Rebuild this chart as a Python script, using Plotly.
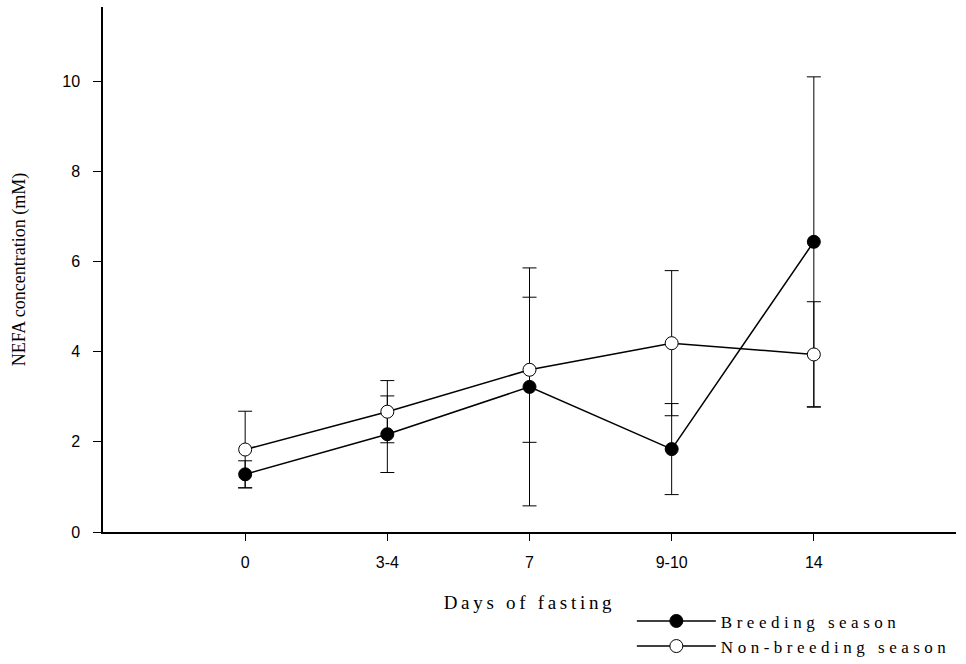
import plotly.graph_objects as go

days = ["0", "3-4", "7", "9-10", "14"]
x_pos = [1, 2, 3, 4, 5]

breeding = [1.28, 2.17, 3.22, 1.84, 6.44]
breeding_se = [0.30, 0.85, 2.64, 1.01, 3.66]

nonbreeding = [1.83, 2.67, 3.60, 4.19, 3.94]
nonbreeding_se = [0.85, 0.69, 1.61, 1.61, 1.17]

SERIF = "Liberation Serif, Times New Roman, serif"
SANS = "Liberation Sans, Arial, sans-serif"


def spaced(t, px=3.0):
    return '<span style="letter-spacing:%.1fpx">%s</span>' % (px, t)


fig = go.Figure()

fig.add_trace(go.Scatter(
    x=x_pos, y=breeding, name=spaced("Breeding season", 4.5), mode="lines+markers",
    line=dict(color="black", width=1.5),
    marker=dict(symbol="circle", size=13, color="black", line=dict(color="black", width=1)),
    error_y=dict(type="data", array=breeding_se, visible=True, color="black", thickness=1, width=7),
))
fig.add_trace(go.Scatter(
    x=x_pos, y=nonbreeding, name=spaced("Non-breeding season", 4.5), mode="lines+markers",
    line=dict(color="black", width=1.5),
    marker=dict(symbol="circle", size=13, color="white", line=dict(color="black", width=1)),
    error_y=dict(type="data", array=nonbreeding_se, visible=True, color="black", thickness=1, width=7),
))

fig.update_layout(
    width=966, height=664,
    margin=dict(l=103, r=10, t=7, b=131.5, autoexpand=False),
    paper_bgcolor="white", plot_bgcolor="white",
    showlegend=True,
    legend=dict(
        x=0.62, y=-0.136, xanchor="left", yanchor="top",
        font=dict(family=SERIF, size=17, color="black"),
        bgcolor="rgba(0,0,0,0)", tracegroupgap=0, itemwidth=79,
    ),
    font=dict(family=SANS, color="black"),
)

fig.update_xaxes(
    range=[0, 6], tickmode="array", tickvals=x_pos, ticktext=days,
    showline=True, linecolor="black", linewidth=1.5, mirror=False,
    ticks="outside", ticklen=7, tickwidth=1, tickcolor="black",
    ticklabelstandoff=8,
    showgrid=False, zeroline=False,
    tickfont=dict(family=SANS, size=16),
    title=dict(text=spaced("Days of fasting", 3.7), standoff=26,
               font=dict(family=SERIF, size=19)),
)
fig.update_yaxes(
    range=[0, 11.65], tickvals=[0, 2, 4, 6, 8, 10],
    showline=True, linecolor="black", linewidth=1.5,
    ticks="outside", ticklen=8, tickwidth=1, tickcolor="black",
    ticklabelstandoff=10,
    showgrid=False, zeroline=False,
    tickfont=dict(family=SANS, size=16),
    title=dict(text="NEFA concentration (mM)", standoff=32,
               font=dict(family=SERIF, size=18)),
)

fig.write_html("out.html")
